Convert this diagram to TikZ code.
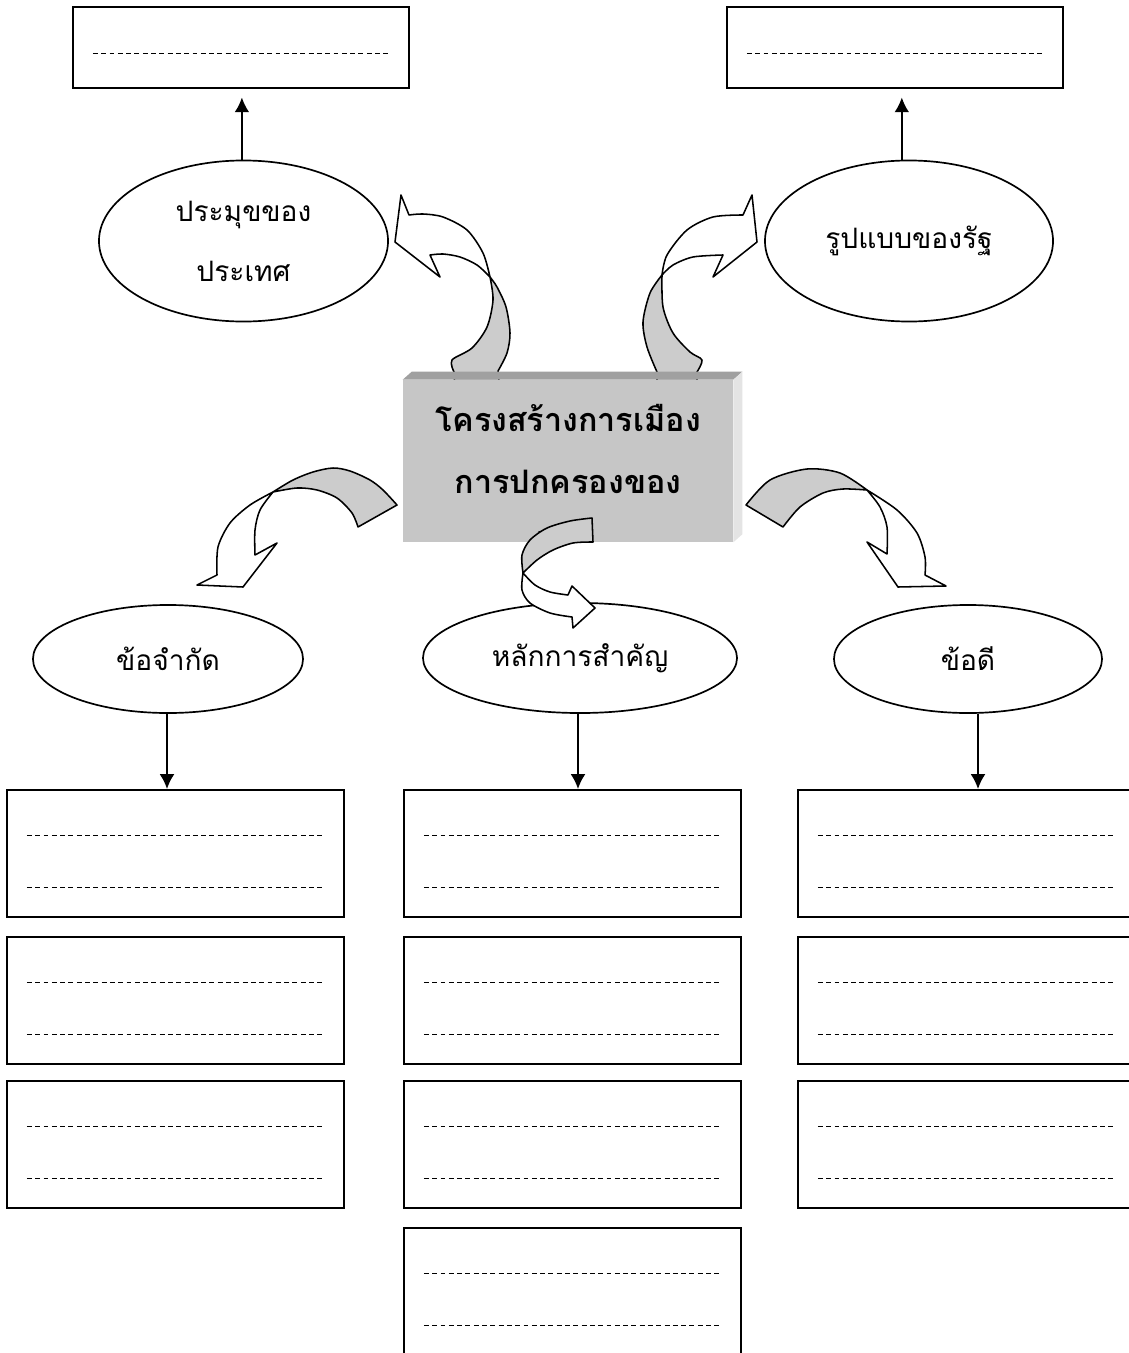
\documentclass[tikz,border=0pt]{standalone}
\usepackage{fontspec}
\newfontfamily\thaifont[Script=Thai]{Loma}
\usetikzlibrary{shapes.geometric,arrows.meta,positioning}
\definecolor{boxfront}{RGB}{198,198,198}
\definecolor{boxtop}{RGB}{160,160,160}
\definecolor{boxside}{RGB}{228,228,228}
\definecolor{ribbongray}{RGB}{204,204,204}

\tikzset{
  topic/.style={ellipse, draw, line width=1.2pt, fill=white, align=center, font=\thaifont\fontsize{20}{42.7}\selectfont},
  answerbox/.style={draw, line width=1.4pt, minimum width=8.425cm, minimum height=3.175cm},
  writeline/.style={line width=0.6pt, dash pattern=on 3.5pt off 2.4pt},
  pointer/.style={-{Latex[length=10.5pt,width=10.5pt]}, line width=1.4pt},
  ribbonfront/.style={draw, line width=1.1pt, fill=white, line join=round},
  ribbonback/.style={draw, line width=1.1pt, fill=ribbongray, line join=round}
}

\begin{document}
\begin{tikzpicture}[x=0.025cm, y=-0.025cm]
  \useasboundingbox (0,0) rectangle (1129,1353);
  \clip (0,0) rectangle (1129,1353);

  % Curved block arrows behind the centre box
  \path[ribbonback] plot[smooth] coordinates {(490,277) (493,300) (487,327) (472,348) (452,360) (454,372)} -- (455,390) -- (500,390) -- plot[smooth] coordinates {(498,371) (507,353) (510,333) (506,307) (497,287) (490,277)} -- cycle;
  \path[ribbonfront] plot[smooth] coordinates {(490,277) (483,253) (467,230) (443,217) (423,214) (409,215)} -- (401,195) -- (395,242) -- (440,277) -- plot[smooth] coordinates {(430,255) (443,254) (460,257) (477,265) (490,277)} -- cycle;

  \path[ribbonback] plot[smooth] coordinates {(662,275) (663,307) (673,333) (690,352) (702,360) (697,372)} -- (697,390) -- (657,390) -- plot[smooth] coordinates {(657,372) (647,347) (643,322) (650,293) (662,275)} -- cycle;
  \path[ribbonfront] plot[smooth] coordinates {(662,275) (667,255) (687,230) (713,217) (743,215)} -- (752,195) -- (757,242) -- (713,277) -- plot[smooth] coordinates {(723,255) (693,257) (673,265) (662,275)} -- cycle;

  \path[ribbonback] plot[smooth] coordinates {(273,492) (293,480) (313,472) (333,468) (350,471) (370,480) (383,490) (397,505)} -- plot[smooth] coordinates {(358,527) (352,513) (337,498) (317,490) (297,488) (273,492)} -- cycle;
  \path[ribbonfront] plot[smooth] coordinates {(273,492) (250,505) (230,523) (218,547) (217,575)} -- (197,585) -- (243,587) -- (277,543) -- plot[smooth] coordinates {(255,555) (255,530) (260,510) (273,492)} -- cycle;

  \path[ribbonback] plot[smooth] coordinates {(867,490) (840,473) (807,469) (770,480) (746,505)} -- plot[smooth] coordinates {(783,527) (800,507) (823,493) (843,489) (867,490)} -- cycle;
  \path[ribbonfront] plot[smooth] coordinates {(867,490) (897,510) (917,533) (925,557) (925,575)} -- (946,586) -- (898,587) -- (867,542) -- plot[smooth] coordinates {(887,554) (887,527) (880,507) (867,490)} -- cycle;

  % Centre box
  \node[fill=boxfront, minimum width=8.25cm, minimum height=4.05cm] (core) at (568,461) {};
  \fill[boxtop] (core.north west) -- ([shift={(9,-8)}]core.north west) -- ([shift={(9,-8)}]core.north east) -- (core.north east) -- cycle;
  \fill[boxside] (core.north east) -- ([shift={(9,-8)}]core.north east) -- ([shift={(9,-8)}]core.south east) -- (core.south east) -- cycle;
  \begin{scope}
    \clip (core.north west) rectangle ([shift={(0,-8)}]core.south east);
    \node[align=center, font=\thaifont\bfseries\fontsize{23}{44}\selectfont] (title) at (568,480) {โครงสร้างการเมือง\\การปกครองของ\\ไทย};
  \end{scope}

  % Top row
  \node[topic, minimum width=7.225cm, minimum height=4.025cm] (head) at (243.5,241) {ประมุขของ\\ประเทศ};
  \node[topic, minimum width=7.2cm, minimum height=4.025cm] (form) at (909,241) {รูปแบบของรัฐ};
  \node[draw, line width=1.4pt, minimum width=8.4cm, minimum height=2.025cm] (headbox) at (241,47.5) {};
  \node[draw, line width=1.4pt, minimum width=8.4cm, minimum height=2.025cm] (formbox) at (895,47.5) {};
  \foreach \b in {headbox, formbox}
    \draw[writeline] ([shift={(21,47)}]\b.north west) -- ([shift={(-20,47)}]\b.north east);
  \draw[pointer, shorten >=6pt] ([xshift=-0.04cm]head.north) -- ([xshift=-0.04cm]head.north |- headbox.south);
  \draw[pointer, shorten >=6pt] ([xshift=-0.18cm]form.north) -- ([xshift=-0.18cm]form.north |- formbox.south);

  % Lower row
  \node[topic, minimum width=6.75cm, minimum height=2.7cm] (limit) at (168,659) {ข้อจำกัด};
  \node[topic, minimum width=7.85cm, minimum height=2.75cm] (principle) at (580,658) {หลักการสำคัญ};
  \node[topic, minimum width=6.7cm, minimum height=2.7cm] (merit) at (968,659) {ข้อดี};

  % Answer boxes
  \foreach \col/\cx/\n in {L/175.5/3, M/572.5/4, R/966.5/3} {
    \foreach \row/\cy in {1/853.5, 2/1000.5, 3/1144.5, 4/1291.5} {
      \ifnum\row>\n\else
        \node[answerbox] (box\col\row) at (\cx,\cy) {};
        \draw[writeline] ([shift={(21,46)}]box\col\row.north west) -- ([shift={(-20,46)}]box\col\row.north east);
        \draw[writeline] ([shift={(21,98)}]box\col\row.north west) -- ([shift={(-20,98)}]box\col\row.north east);
      \fi
    }
  }
  \draw[pointer, line width=1.3pt] ([xshift=-0.025cm]limit.south) -- ([xshift=-0.025cm]limit.south |- boxL1.north);
  \draw[pointer, line width=1.3pt] ([xshift=-0.05cm]principle.south) -- ([xshift=-0.05cm]principle.south |- boxM1.north);
  \draw[pointer, line width=1.3pt] ([xshift=0.25cm]merit.south) -- ([xshift=0.25cm]merit.south |- boxR1.north);

  % Small curved arrow over the centre
  \path[ribbonback] plot[smooth] coordinates {(523,573) (522,555) (530,540) (547,528) (570,521) (592,518)} -- plot[smooth] coordinates {(593,542) (573,543) (553,550) (537,560) (523,573)} -- cycle;
  \path[ribbonfront] plot[smooth] coordinates {(523,573) (522,590) (530,603) (550,613) (572,617)} -- (573,628) -- (595,608) -- (572,586) -- plot[smooth] coordinates {(568,595) (550,592) (535,585) (523,573)} -- cycle;
\end{tikzpicture}
\end{document}
